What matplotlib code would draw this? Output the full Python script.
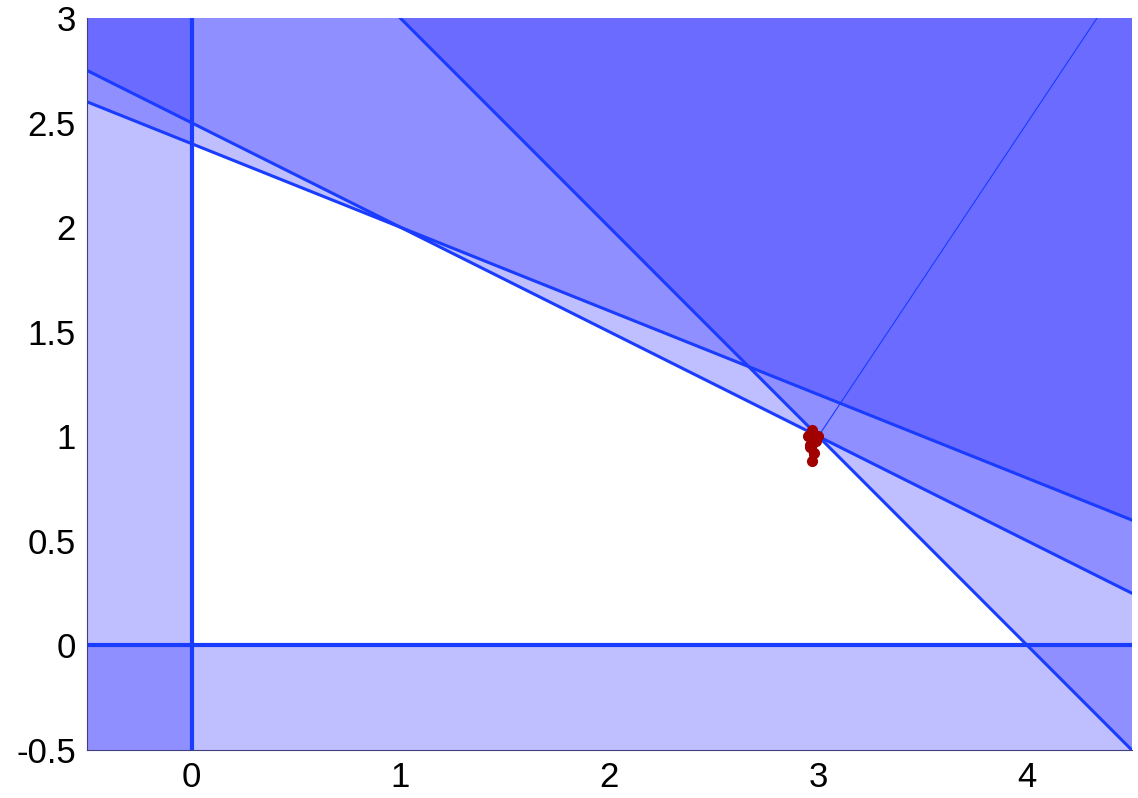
import numpy as np
import matplotlib.pyplot as plt

plt.rcParams['font.family'] = ['Liberation Sans', 'DejaVu Sans']
plt.rcParams['axes.unicode_minus'] = False

# constraints a1*x + a2*y <= b
A = np.array([[-1.0, 0.0],
              [0.0, -1.0],
              [1.0, 2.0],
              [2.0, 5.0],
              [1.0, 1.0]])
b = np.array([0.0, 0.0, 5.0, 12.0, 4.0])

# optimum and gradient direction of the objective
x_opt = np.array([3.0, 1.0])
grad = np.array([2.0, 3.0])

# path of the iterates near the optimum
path_x = [2.97, 2.95, 2.96, 2.99, 2.98, 2.97, 2.96, 3.0]
path_y = [1.03, 1.0, 0.96, 0.98, 0.92, 0.88, 0.95, 1.0]

xlim = (-0.5, 4.5)
ylim = (-0.5, 3.0)
fill_col = '#0000ff'
line_col = '#1a3cff'

fig = plt.figure(figsize=(11.38, 7.98), dpi=100)
ax = fig.add_axes([0.0765, 0.0602, 0.918, 0.917])

xs = np.linspace(xlim[0] - 1, xlim[1] + 1, 400)
for (a1, a2), bi in zip(A, b):
    if a2 == 0:
        # vertical line a1*x = bi
        xv = bi / a1
        if a1 < 0:
            ax.axvspan(xlim[0] - 1, xv, color=fill_col, alpha=0.25, lw=0)
        else:
            ax.axvspan(xv, xlim[1] + 1, color=fill_col, alpha=0.25, lw=0)
        ax.axvline(xv, color=line_col, lw=3)
    elif a1 == 0:
        yv = bi / a2
        if a2 < 0:
            ax.axhspan(ylim[0] - 1, yv, color=fill_col, alpha=0.25, lw=0)
        else:
            ax.axhspan(yv, ylim[1] + 1, color=fill_col, alpha=0.25, lw=0)
        ax.axhline(yv, color=line_col, lw=3)
    else:
        ys = (bi - a1 * xs) / a2
        ax.fill_between(xs, ys, ylim[1] + 1, color=fill_col, alpha=0.25, lw=0)
        ax.plot(xs, ys, color=line_col, lw=2.2)

# objective direction from the optimum
t = np.linspace(0, 2, 50)
ax.plot(x_opt[0] + grad[0] * t, x_opt[1] + grad[1] * t, color=line_col, lw=0.8)

ax.plot(path_x, path_y, color='#a00000', lw=3, marker='o', ms=7,
        mfc='#a00000', mec='#a00000')

ax.set_xlim(xlim)
ax.set_ylim(ylim)
ax.set_xticks([0, 1, 2, 3, 4])
ax.set_yticks(np.arange(-0.5, 3.01, 0.5))
ax.set_yticklabels(['-0.5', '0', '0.5', '1', '1.5', '2', '2.5', '3'])
ax.tick_params(length=0, labelsize=25, pad=8)
for s in ['top', 'right']:
    ax.spines[s].set_visible(False)
for s in ['left', 'bottom']:
    ax.spines[s].set_color('#404080')
    ax.spines[s].set_linewidth(0.8)

fig.savefig('out.png', dpi=100)
